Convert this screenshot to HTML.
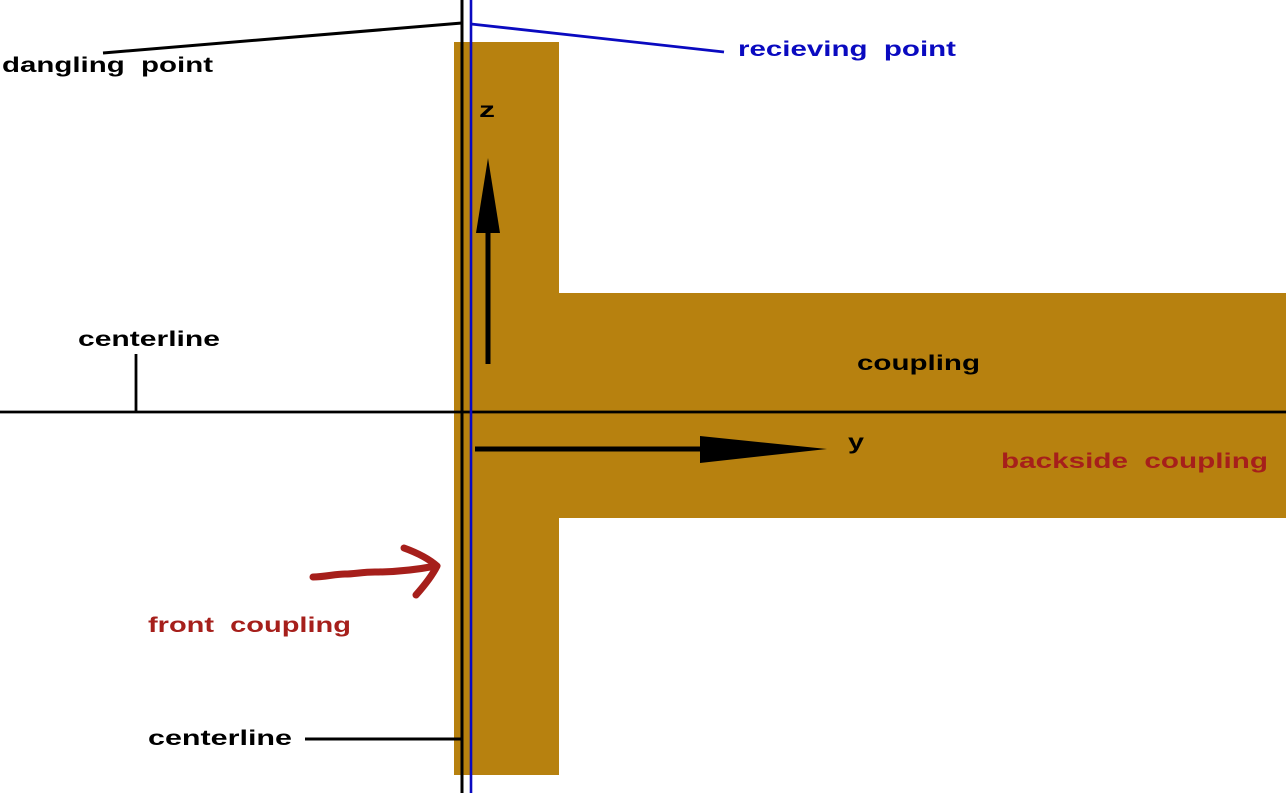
<!DOCTYPE html>
<html>
<head>
<meta charset="utf-8">
<style>
html,body{margin:0;padding:0;background:#fff;}
svg{display:block;}
text{font-family:"Liberation Sans",sans-serif;font-weight:bold;white-space:pre;}
</style>
</head>
<body>
<svg width="1286" height="793" viewBox="0 0 1286 793" xmlns="http://www.w3.org/2000/svg" xml:space="preserve">
  <rect x="0" y="0" width="1286" height="793" fill="#ffffff"/>
  <rect x="454" y="42" width="105" height="733" fill="#b7810f"/>
  <rect x="454" y="293" width="832" height="225" fill="#b7810f"/>

  <line x1="0" y1="412" x2="1286" y2="412" stroke="#000" stroke-width="2.8"/>
  <line x1="462" y1="0" x2="462" y2="793" stroke="#000" stroke-width="3"/>
  <line x1="471" y1="0" x2="471" y2="793" stroke="#0a0ac0" stroke-width="2.6"/>

  <line x1="103" y1="53" x2="462" y2="23" stroke="#000" stroke-width="3"/>
  <line x1="471" y1="24" x2="724" y2="52" stroke="#0a0ac0" stroke-width="2.8"/>
  <line x1="136" y1="354" x2="136" y2="412" stroke="#000" stroke-width="2.8"/>
  <line x1="305" y1="739" x2="462" y2="739" stroke="#000" stroke-width="3"/>

  <line x1="488" y1="364" x2="488" y2="228" stroke="#000" stroke-width="5"/>
  <polygon points="476,233 500,233 488,158" fill="#000"/>
  <line x1="475" y1="449" x2="705" y2="449" stroke="#000" stroke-width="5"/>
  <polygon points="700,436 700,463 827,449" fill="#000"/>

  <path d="M313,577 C325,577 335,574 345,574 C355,574 362,572 375,572 C395,572 415,570 436,566" fill="none" stroke="#a61f1b" stroke-width="7" stroke-linecap="round" stroke-linejoin="round"/>
  <path d="M404,548 C415,552 428,558 437,566 C432,576 424,586 416,595" fill="none" stroke="#a61f1b" stroke-width="7" stroke-linecap="round" stroke-linejoin="round"/>

  <text x="2" y="72" font-size="21" fill="#000" textLength="211" lengthAdjust="spacingAndGlyphs">dangling  point</text>
  <text x="738" y="56" font-size="21" fill="#0a0ac0" textLength="218" lengthAdjust="spacingAndGlyphs">recieving  point</text>
  <text x="479" y="117" font-size="21" fill="#000" textLength="16" lengthAdjust="spacingAndGlyphs">z</text>
  <text x="78" y="346" font-size="21" fill="#000" textLength="142" lengthAdjust="spacingAndGlyphs">centerline</text>
  <text x="857" y="370" font-size="21" fill="#000" textLength="123" lengthAdjust="spacingAndGlyphs">coupling</text>
  <text x="848" y="449" font-size="21" fill="#000" textLength="16" lengthAdjust="spacingAndGlyphs">y</text>
  <text x="1001" y="468" font-size="21" fill="#a61f1b" textLength="267" lengthAdjust="spacingAndGlyphs">backside  coupling</text>
  <text x="148" y="632" font-size="21" fill="#a61f1b" textLength="203" lengthAdjust="spacingAndGlyphs">front  coupling</text>
  <text x="148" y="745" font-size="21" fill="#000" textLength="144" lengthAdjust="spacingAndGlyphs">centerline</text>
</svg>
</body>
</html>
